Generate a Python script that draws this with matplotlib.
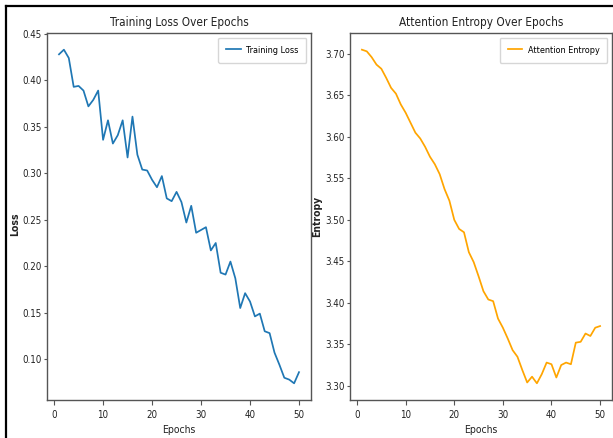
import matplotlib
matplotlib.use("Agg")
import matplotlib.pyplot as plt
from matplotlib.lines import Line2D

plt.rcParams['font.family'] = ['DejaVu Sans']
plt.rcParams['font.stretch'] = 'condensed'

epochs = list(range(1, 51))
training_loss = [
    0.428, 0.433, 0.424, 0.393, 0.394, 0.389, 0.372, 0.379, 0.389, 0.336,
    0.357, 0.332, 0.341, 0.357, 0.317, 0.361, 0.320, 0.304, 0.303, 0.293,
    0.285, 0.297, 0.273, 0.270, 0.280, 0.269, 0.247, 0.265, 0.236, 0.239,
    0.242, 0.217, 0.225, 0.193, 0.191, 0.205, 0.187, 0.155, 0.171, 0.162,
    0.146, 0.149, 0.130, 0.128, 0.107, 0.094, 0.080, 0.078, 0.074, 0.086,
]
attention_entropy = [
    3.705, 3.703, 3.696, 3.687, 3.682, 3.671, 3.659, 3.652, 3.639, 3.629,
    3.617, 3.605, 3.598, 3.588, 3.576, 3.567, 3.555, 3.537, 3.523, 3.500,
    3.489, 3.485, 3.461, 3.449, 3.432, 3.414, 3.404, 3.402, 3.381, 3.370,
    3.357, 3.343, 3.335, 3.319, 3.304, 3.311, 3.303, 3.314, 3.328, 3.326,
    3.310, 3.325, 3.328, 3.326, 3.352, 3.353, 3.363, 3.360, 3.370, 3.372,
]

W, H = 613, 438
fig = plt.figure(figsize=(W / 100, H / 100), dpi=100)
fig.patch.set_facecolor('white')

def box(x0, y0, x1, y1):
    return [x0 / W, 1 - y1 / H, (x1 - x0) / W, (y1 - y0) / H]

ax1 = fig.add_axes(box(47, 33, 311, 400))
ax2 = fig.add_axes(box(350, 33, 612, 400))

spine_col = '#555555'
text_col = '#222222'
for ax in (ax1, ax2):
    for s in ax.spines.values():
        s.set_color(spine_col)
        s.set_linewidth(1.0)
    ax.tick_params(labelsize=7, colors=spine_col, labelcolor=text_col)
    ax.tick_params(axis='y', length=2.2, pad=1.5)
    ax.set_xticks([0, 10, 20, 30, 40, 50])

legend_kw = dict(loc='upper right', fontsize=6.5, borderpad=0.9,
                 handlelength=1.6, handletextpad=0.6)

ax1.plot(epochs, training_loss, color='#1f77b4', lw=1.25, label='Training Loss')
ax1.set_title('Training Loss Over Epochs', fontsize=8.5, pad=5, color=text_col)
ax1.set_xlabel('Epochs', fontsize=7.5, color=text_col)
ax1.set_ylabel('Loss', fontsize=7.5, fontweight='bold', color=text_col)
ax1.yaxis.set_label_coords(-0.1, 0.48)
ax1.set_yticks([0.10, 0.15, 0.20, 0.25, 0.30, 0.35, 0.40, 0.45])
ax1.legend(**legend_kw)

ax2.plot(epochs, attention_entropy, color='orange', lw=1.25, label='Attention Entropy')
ax2.set_title('Attention Entropy Over Epochs', fontsize=8.5, pad=5, color=text_col)
ax2.set_xlabel('Epochs', fontsize=7.5, color=text_col)
ax2.set_ylabel('Entropy', fontsize=7.5, fontweight='bold', color=text_col)
ax2.yaxis.set_label_coords(-0.105, 0.5)
ax2.legend(**legend_kw)

# screenshot frame
fig.add_artist(Line2D([6 / W, 1], [1 - 6 / H, 1 - 6 / H], transform=fig.transFigure,
                      color='black', lw=1.6))
fig.add_artist(Line2D([6 / W, 6 / W], [0, 1 - 6 / H], transform=fig.transFigure,
                      color='black', lw=1.6))

fig.savefig('out.png', dpi=100, facecolor='white')
